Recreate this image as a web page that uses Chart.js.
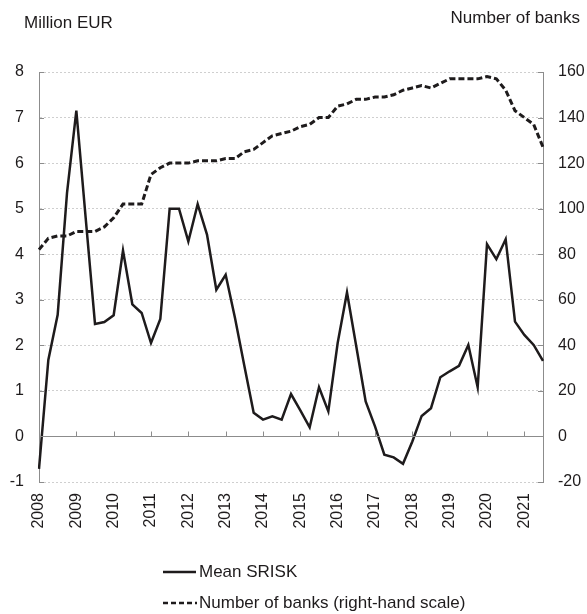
<!DOCTYPE html>
<html>
<head>
<meta charset="utf-8">
<script src="https://cdn.jsdelivr.net/npm/chart.js@4"></script>
<style>
  body { margin: 0; background: #fff; }
  #wrap { position: relative; width: 587px; height: 614px; }
</style>
</head>
<body>
<div id="wrap"><canvas id="myChart"></canvas></div>
<script>
// quarterly observations, 2008 Q1 .. 2021 Q3
const years = [2008, 2009, 2010, 2011, 2012, 2013, 2014, 2015, 2016, 2017, 2018, 2019, 2020, 2021];
const quarters = years.flatMap((y) => ['Q1', 'Q2', 'Q3', 'Q4'].map((q) => y + ' ' + q)).slice(0, 55);

// Mean SRISK, million EUR (left-hand scale)
const meanSrisk = [
    -0.71, 1.68, 2.67, 5.34, 7.15, 4.8, 2.47, 2.51, 2.66, 4.08,
    2.9, 2.71, 2.05, 2.58, 5.0, 5.0, 4.28, 5.1, 4.43, 3.22,
    3.55, 2.6, 1.55, 0.52, 0.37, 0.44, 0.37, 0.93, 0.57, 0.2,
    1.08, 0.55, 2.05, 3.16, 1.97, 0.77, 0.22, -0.4, -0.46, -0.6,
    -0.11, 0.45, 0.62, 1.3, 1.43, 1.55, 2.01, 1.08, 4.22, 3.89,
    4.33, 2.52, 2.23, 2.01, 1.66
];

// Number of banks (right-hand scale)
const numberOfBanks = [
    82, 87, 88, 88, 90, 90, 90, 92, 96, 102,
    102, 102, 115, 118, 120, 120, 120, 121, 121, 121,
    122, 122, 125, 126, 129, 132, 133, 134, 136, 137,
    140, 140, 145, 146, 148, 148, 149, 149, 150, 152,
    153, 154, 153, 155, 157, 157, 157, 157, 158, 157,
    152, 143, 140, 137, 127
];

const leftTitle = 'Million EUR';
const rightTitle = 'Number of banks';
const legendLabels = ['Mean SRISK', 'Number of banks (right-hand scale)'];

const FONT = '"Liberation Sans", Arial, sans-serif';
const INK = '#1e1b1c';
const AXIS = '#8c8c8c';

// zero line, inward tick marks, titles and legend
const extras = {
    id: 'extras',
    afterDraw(chart) {
        const ctx = chart.ctx;
        const area = chart.chartArea;
        const x = chart.scales.x, y = chart.scales.y, y1 = chart.scales.y1;
        ctx.save();
        ctx.strokeStyle = AXIS;
        ctx.lineWidth = 1;
        const y0 = Math.round(y.getPixelForValue(0)) + 0.5;
        ctx.beginPath();
        ctx.moveTo(area.left, y0);
        ctx.lineTo(area.right, y0);
        quarters.forEach((q, i) => {
            if (q.endsWith('Q1')) {
                const px = Math.round(x.getPixelForValue(i)) + 0.5;
                ctx.moveTo(px, y0);
                ctx.lineTo(px, y0 - 5);
            }
        });
        y.ticks.forEach((t) => {
            const py = Math.round(y.getPixelForValue(t.value)) + 0.5;
            ctx.moveTo(area.left, py);
            ctx.lineTo(area.left + 5, py);
        });
        y1.ticks.forEach((t) => {
            const py = Math.round(y1.getPixelForValue(t.value)) + 0.5;
            ctx.moveTo(area.right, py);
            ctx.lineTo(area.right - 5, py);
        });
        ctx.stroke();

        ctx.fillStyle = INK;
        ctx.font = '17px ' + FONT;
        ctx.textBaseline = 'alphabetic';
        ctx.textAlign = 'left';
        ctx.fillText(leftTitle, 24, 28);
        ctx.textAlign = 'right';
        ctx.fillText(rightTitle, 580, 23);

        // legend
        ctx.textAlign = 'left';
        ctx.textBaseline = 'middle';
        ctx.strokeStyle = INK;
        ctx.lineWidth = 2.5;
        ctx.beginPath();
        ctx.moveTo(163, 572);
        ctx.lineTo(196, 572);
        ctx.stroke();
        ctx.fillText(legendLabels[0], 199, 572);
        ctx.setLineDash([5, 3]);
        ctx.beginPath();
        ctx.moveTo(163, 603);
        ctx.lineTo(197, 603);
        ctx.stroke();
        ctx.fillText(legendLabels[1], 199, 603);
        ctx.restore();
    }
};

new Chart(document.getElementById('myChart'), {
    type: 'line',
    data: {
        labels: quarters,
        datasets: [{
            label: legendLabels[0],
            data: meanSrisk,
            yAxisID: 'y',
            borderColor: INK,
            borderWidth: 2.5,
            pointRadius: 0,
            tension: 0
        }, {
            label: legendLabels[1],
            data: numberOfBanks,
            yAxisID: 'y1',
            borderColor: INK,
            borderWidth: 3,
            borderDash: [6, 3],
            pointRadius: 0,
            tension: 0
        }]
    },
    options: {
        responsive: true,
        maintainAspectRatio: false,
        animation: false,
        layout: { padding: { top: 72, left: 0, right: 0, bottom: 0 } },
        plugins: { legend: { display: false }, tooltip: { enabled: false } },
        scales: {
            x: {
                type: 'category',
                offset: false,
                grid: { display: false, drawTicks: false },
                border: { display: false },
                ticks: {
                    autoSkip: false,
                    maxRotation: 90,
                    minRotation: 90,
                    padding: 11,
                    color: INK,
                    font: { family: FONT, size: 16 },
                    callback: (v, i) => quarters[i].endsWith('Q1') ? quarters[i].slice(0, 4) : ''
                },
                afterFit: (s) => { s.height = 132; }
            },
            y: {
                position: 'left',
                min: -1,
                max: 8,
                ticks: { stepSize: 1, padding: 15, color: INK, font: { family: FONT, size: 16 } },
                grid: { color: '#cfcfcf', lineWidth: 1, drawTicks: false },
                border: { display: true, color: AXIS, dash: [2, 2] },
                afterFit: (s) => { s.width = 39; }
            },
            y1: {
                position: 'right',
                min: -20,
                max: 160,
                ticks: { stepSize: 20, padding: 15, color: INK, font: { family: FONT, size: 16 } },
                grid: { display: false, drawTicks: false },
                border: { display: true, color: AXIS },
                afterFit: (s) => { s.width = 44; }
            }
        }
    },
    plugins: [extras]
});
</script>
</body>
</html>
